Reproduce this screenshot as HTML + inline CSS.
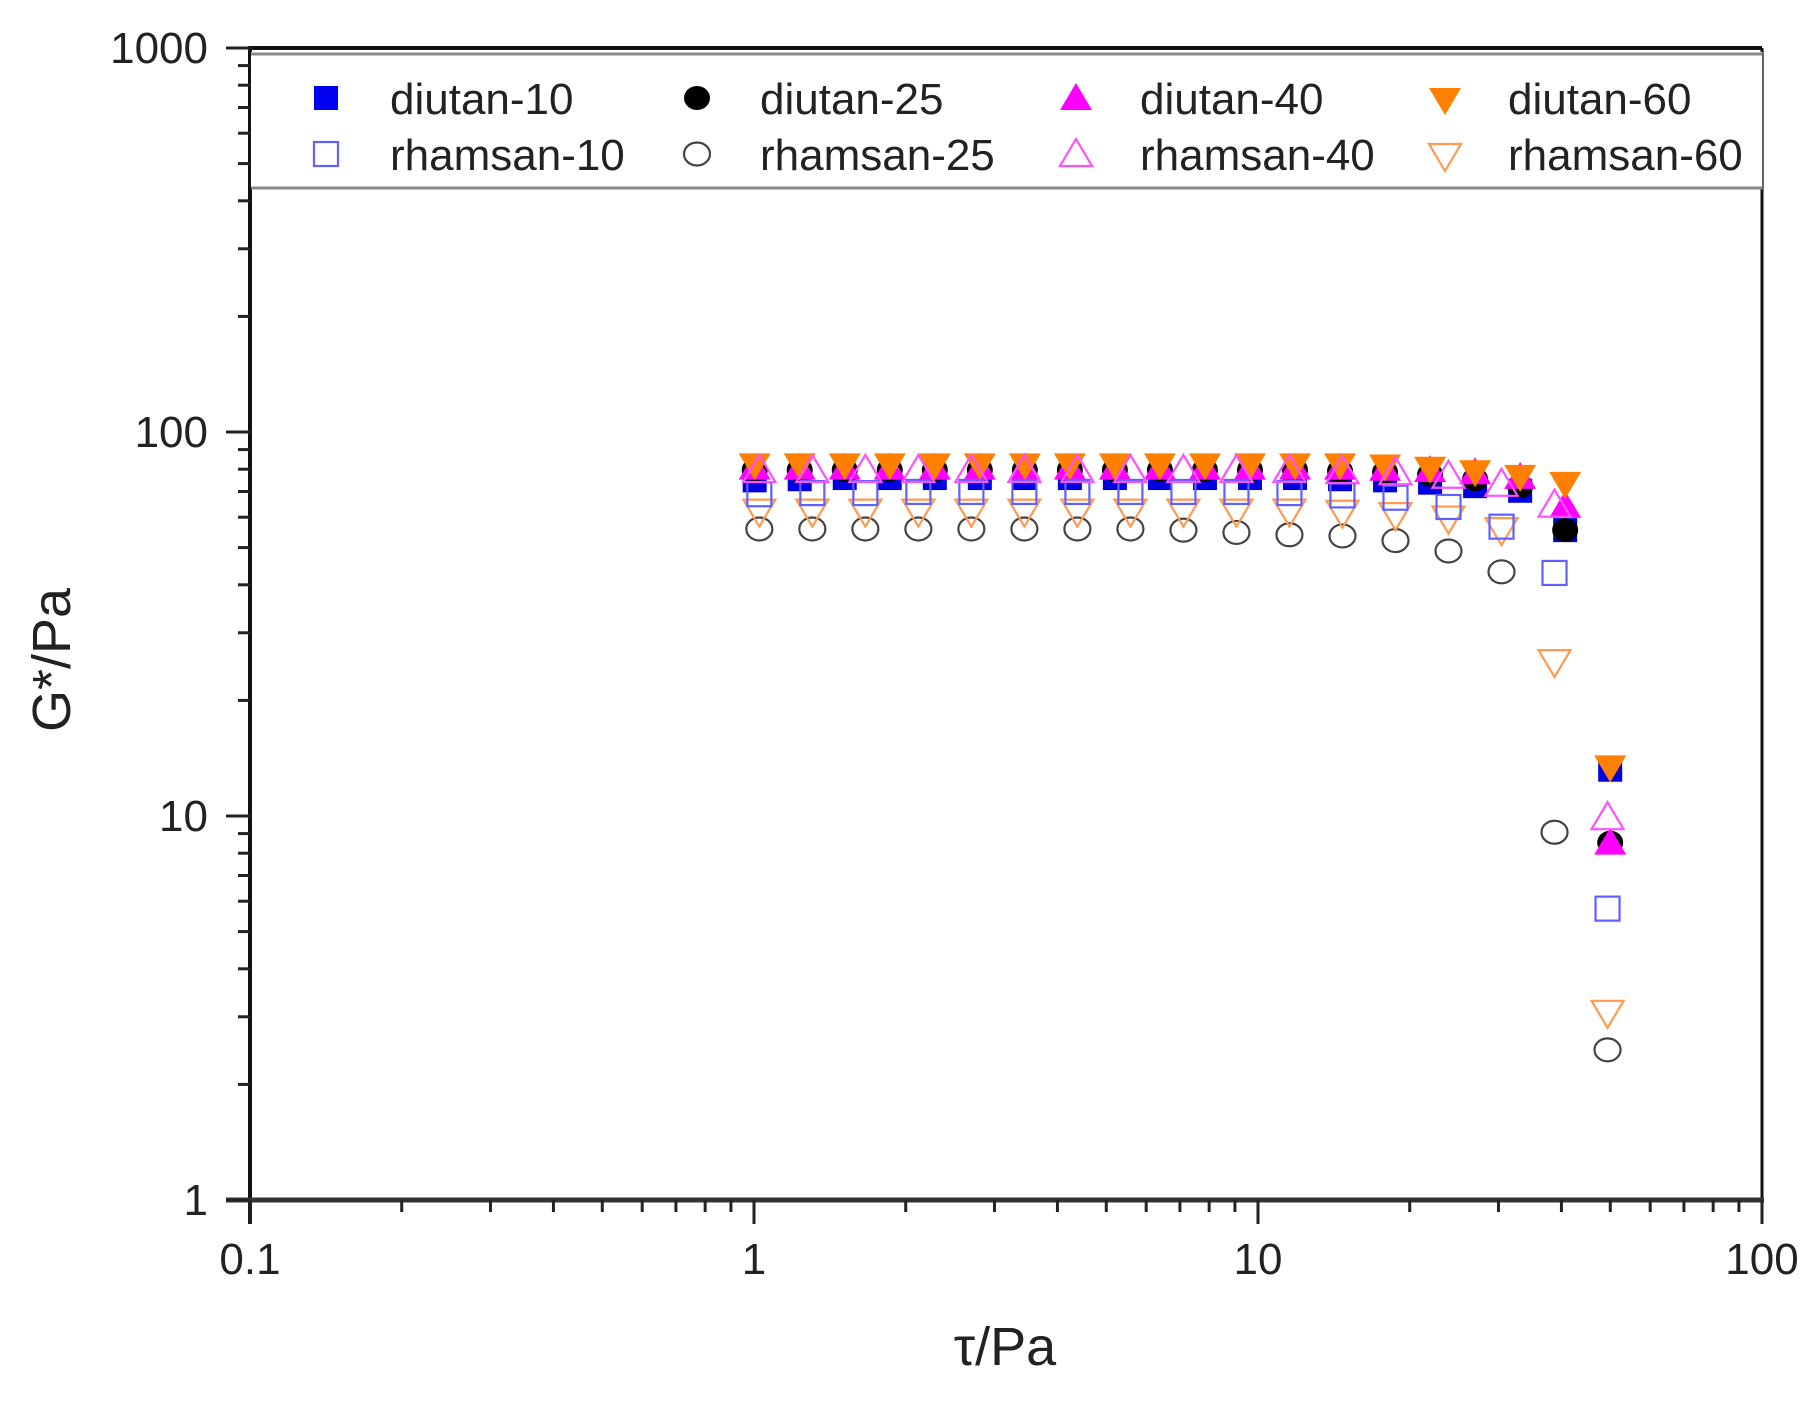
<!DOCTYPE html>
<html><head><meta charset="utf-8"><style>
html,body{margin:0;padding:0;background:#fff;}
svg{display:block;font-family:"Liberation Sans",Arial,sans-serif;}
</style></head><body>
<svg id="s" width="1815" height="1402" viewBox="0 0 1815 1402" xmlns="http://www.w3.org/2000/svg">
<rect width="1815" height="1402" fill="#fff"/>
<g id="data"></g>
<g id="axes"></g>
<rect x="251" y="52" width="1511" height="137" fill="#fff" stroke="none"/>
<line x1="251" y1="54" x2="1762" y2="54" stroke="#888" stroke-width="3"/>
<line x1="251" y1="188" x2="1762" y2="188" stroke="#888" stroke-width="3"/>
<line x1="1763" y1="52" x2="1763" y2="190" stroke="#666" stroke-width="2"/>
<g id="leg"></g>
<g font-size="44" fill="#222">
<text x="390" y="114">diutan-10</text>
<text x="760" y="114">diutan-25</text>
<text x="1140" y="114">diutan-40</text>
<text x="1508" y="114">diutan-60</text>
<text x="390" y="170">rhamsan-10</text>
<text x="760" y="170">rhamsan-25</text>
<text x="1140" y="170">rhamsan-40</text>
<text x="1508" y="170">rhamsan-60</text>
</g>
<g font-size="44" fill="#222" text-anchor="end">
<text x="208" y="63">1000</text>
<text x="208" y="447">100</text>
<text x="208" y="831">10</text>
<text x="208" y="1215">1</text>
</g>
<g font-size="44" fill="#222" text-anchor="middle">
<text x="250" y="1274">0.1</text>
<text x="754" y="1274">1</text>
<text x="1258" y="1274">10</text>
<text x="1762" y="1274">100</text>
</g>
<text x="1005" y="1365" font-size="54" fill="#222" text-anchor="middle">τ/Pa</text>
<text transform="translate(70,660) rotate(-90)" font-size="54" fill="#222" text-anchor="middle">G*/Pa</text>
</svg>
<script>
var NS="http://www.w3.org/2000/svg";
function el(p,t,a){var e=document.createElementNS(NS,t);for(var k in a)e.setAttribute(k,a[k]);p.appendChild(e);return e;}
var S=1.1575;
var L=250,R=1762,T=48,B=1200;
var ax=document.getElementById('axes');
el(ax,'line',{x1:L,y1:T,x2:R,y2:T,stroke:'#111','stroke-width':4});
el(ax,'line',{x1:R,y1:T,x2:R,y2:B,stroke:'#111','stroke-width':3});
el(ax,'line',{x1:L,y1:T-2,x2:L,y2:B+24,stroke:'#111','stroke-width':4});
el(ax,'line',{x1:L-24,y1:B,x2:R+2,y2:B,stroke:'#333','stroke-width':5});
for(var d=0;d<3;d++){
  for(var m=1;m<10;m++){
    var x=L+504*(d+Math.log10(m));
    var len=m==1?24:12;
    el(ax,'line',{x1:x,y1:B,x2:x,y2:B+len,stroke:'#222','stroke-width':3});
    var y=B-384*(d+Math.log10(m));
    el(ax,'line',{x1:L,y1:y,x2:L-len,y2:y,stroke:'#222','stroke-width':3});
  }
}
el(ax,'line',{x1:R,y1:B,x2:R,y2:B+24,stroke:'#222','stroke-width':3});
el(ax,'line',{x1:L,y1:T,x2:L-24,y2:T,stroke:'#222','stroke-width':3});

function mk(g,type,cx,cy,col,fill){
  var sw=fill?0:2.2, f=fill?col:'none', st=fill?'none':col;
  if(type=='sq'){el(g,'rect',{x:cx-12,y:cy-12,width:24,height:24,fill:f,stroke:st,'stroke-width':sw});}
  else if(type=='ci'){el(g,'ellipse',{cx:cx,cy:cy,rx:13,ry:fill?12:11.5,fill:f,stroke:st,'stroke-width':sw});}
  else if(type=='up'){el(g,'polygon',{points:(cx-16)+','+(cy+12)+' '+(cx+16)+','+(cy+12)+' '+cx+','+(cy-15),fill:f,stroke:st,'stroke-width':sw});}
  else {el(g,'polygon',{points:(cx-16)+','+(cy-12)+' '+(cx+16)+','+(cy-12)+' '+cx+','+(cy+15),fill:f,stroke:st,'stroke-width':sw});}
}
var g=document.getElementById('data');
var dX=[],rX=[];for(var k=0;k<20;k++)dX.push(652+38.9*k);for(k=0;k<17;k++)rX.push(656+45.8*k);
var d10=[415,414,413,413,413,413,413,413,413,413,413,413,413,414,415,417,420,424,458,665];
var d25=[406,406,406,406,406,406,406,406,406,406,406,406,406,407,408,410,414,420,458,728];
var d40=[404,404,404,404,404,404,404,404,404,404,404,404,404,404,405,406,408,412,437,728];
var d60=[402,402,402,402,402,402,402,402,402,402,402,402,402,402,403,405,408,412,418,433];
d60[19]=663;
var r10=[427,426,426,425,425,425,425,425,425,425,426,428,430,438,455,495,785];
var r25=[457,457,457,457,457,457,457,457,458,460,462,463,467,476,494,719,907];
var r40=[406,406,406,406,406,406,406,406,406,406,406,407,408,411,418,436,706];
var r60=[442,442,442,442,442,442,442,442,442,442,442,443,445,448,458,572,875];
function draw(xs,ys,type,col,fill){for(var i=0;i<xs.length;i++)mk(g,type,xs[i]*S,ys[i]*S,col,fill);}
draw(dX,d10,'sq','#0000e0',true);
draw(dX,d25,'ci','#000',true);
draw(dX,d40,'up','#ff00ff',true);
draw(dX,d60,'dn','#ff7f00',true);
draw(rX,r25,'ci','#444',false);
draw(rX,r60,'dn','#ff9a50',false);
draw(rX,r10,'sq','#6060ff',false);
draw(rX,r40,'up','#ff50ff',false);
var lg=document.getElementById('leg');
mk(lg,'sq',326,98,'#0000f0',true);
mk(lg,'ci',697,98,'#000',true);
mk(lg,'up',1076,98,'#ff00ff',true);
mk(lg,'dn',1445,100,'#ff7f00',true);
mk(lg,'sq',326,154,'#6060ff',false);
mk(lg,'ci',697,154,'#444',false);
mk(lg,'up',1076,154,'#ff50ff',false);
mk(lg,'dn',1445,156,'#ff9a50',false);
</script>
</body></html>
